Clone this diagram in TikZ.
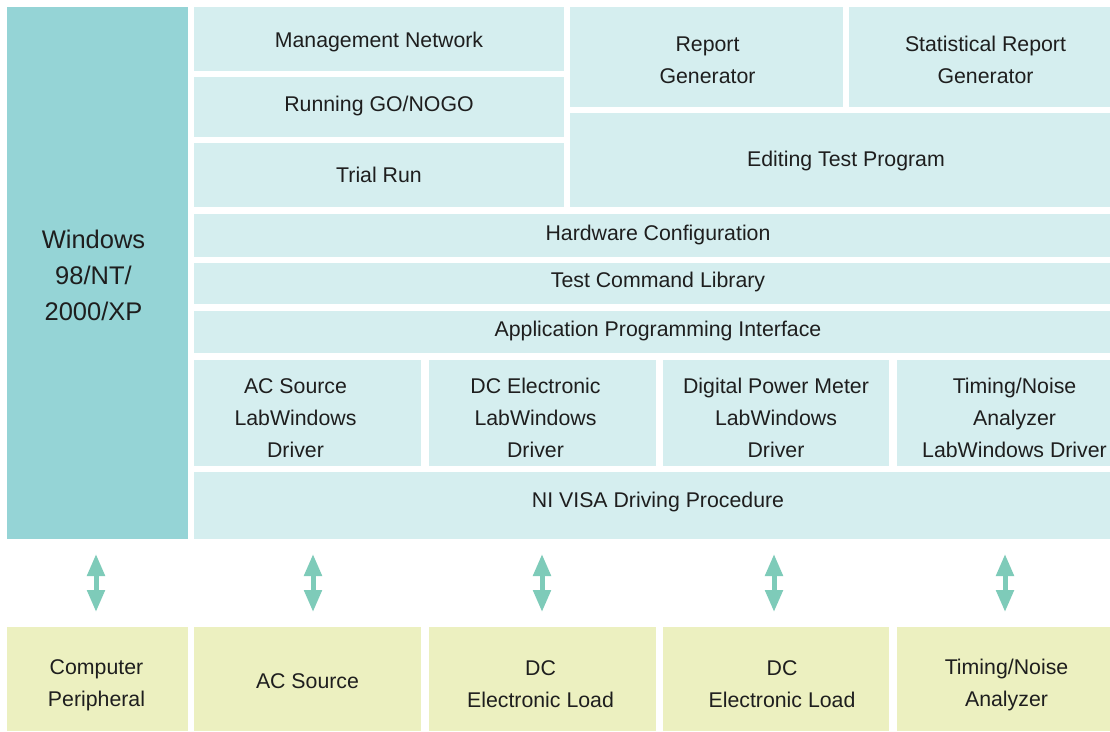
\documentclass[tikz,border=0pt]{standalone}
\usepackage{fontspec}
\setmainfont{Liberation Sans}
\usetikzlibrary{arrows.meta}
\definecolor{wincol}{HTML}{95D4D6}
\definecolor{lightcol}{HTML}{D5EEEF}
\definecolor{yelcol}{HTML}{ECF0C0}
\definecolor{arrcol}{HTML}{7ECBB9}
\definecolor{txtcol}{HTML}{1E1E1E}
% style, name, x1, y1, x2, y2, text dx, text dy, text
\newcommand\blk[9]{%
  \node[#1,minimum width={(#5-#3)*1pt},minimum height={(#6-#4)*1pt}] (#2) at ({(#3+#5)/2},{(#4+#6)/2}) {};
  \node[lbl,#1-lbl] (#2-t) at ([xshift=#7pt,yshift={-(#8-1)*1pt}]#2.center) {#9};}
\begin{document}
\begin{tikzpicture}[x=1pt,y=-1pt,
  box/.style={inner sep=0pt,outer sep=0pt},
  lbl/.style={inner sep=0pt,outer sep=0pt,align=center,text=txtcol,font=\fontsize{21.3}{32}\selectfont},
  winbox/.style={box,fill=wincol},
  winbox-lbl/.style={font=\fontsize{25.5}{36}\selectfont},
  swbox/.style={box,fill=lightcol},
  swbox-lbl/.style={},
  hwbox/.style={box,fill=yelcol},
  hwbox-lbl/.style={},
  link/.style={arrcol,line width=5pt,{Triangle[width=17pt,length=22pt]}-{Triangle[width=17pt,length=22pt]}}]
\useasboundingbox (0,0) rectangle (1110,731);
\clip (0,0) rectangle (1110,731);
\fill[white] (0,0) rectangle (1110,731);
\blk{winbox}{win}{7}{7}{188}{539}{-4}{3}{Windows\\98/NT/\\2000/XP}
\blk{swbox}{mgmt}{194}{7}{564}{71}{0}{4}{Management Network}
\blk{swbox}{gonogo}{194}{77}{564}{137}{0}{0}{Running GO/NOGO}
\blk{swbox}{trial}{194}{143}{564}{207}{0}{1}{Trial Run}
\blk{swbox}{report}{570}{7}{843}{107}{1}{4}{Report\\Generator}
\blk{swbox}{stat}{849}{7}{1122}{107}{0}{4}{Statistical Report\\Generator}
\blk{swbox}{edit}{570}{113}{1122}{207}{0}{2}{Editing Test Program}
\blk{swbox}{hwcfg}{194}{214}{1122}{257}{0}{0}{Hardware Configuration}
\blk{swbox}{tcl}{194}{263}{1122}{304}{0}{-1}{Test Command Library}
\blk{swbox}{api}{194}{311}{1122}{353}{0}{0}{Application Programming Interface}
\blk{swbox}{drvac}{194}{360}{421}{466}{-12}{6}{AC Source\\LabWindows\\Driver}
\blk{swbox}{drvdc}{429}{360}{656}{466}{-7}{6}{DC Electronic\\LabWindows\\Driver}
\blk{swbox}{drvpm}{663}{360}{889}{466}{0}{6}{Digital Power Meter\\LabWindows\\Driver}
\blk{swbox}{drvtn}{897}{360}{1122}{466}{5}{6}{Timing/Noise\\Analyzer\\LabWindows Driver}
\blk{swbox}{visa}{194}{472}{1122}{539}{0}{-3}{NI VISA Driving Procedure}
\blk{hwbox}{hwpc}{7}{627}{188}{731}{-1}{7}{Computer\\Peripheral}
\blk{hwbox}{hwac}{194}{627}{421}{731}{0}{3}{AC Source}
\blk{hwbox}{hwdc1}{429}{627}{656}{731}{-2}{6}{DC\\Electronic Load}
\blk{hwbox}{hwdc2}{663}{627}{889}{731}{6}{6}{DC\\Electronic Load}
\blk{hwbox}{hwtn}{897}{627}{1122}{731}{-3}{7}{Timing/Noise\\Analyzer}
\foreach \n/\x in {1/96,2/313,3/542,4/774,5/1005}{
  \coordinate (t\n) at (\x,554);
  \coordinate (b\n) at (\x,612);
  \draw[link] (t\n) -- (b\n);
}
\end{tikzpicture}
\end{document}
